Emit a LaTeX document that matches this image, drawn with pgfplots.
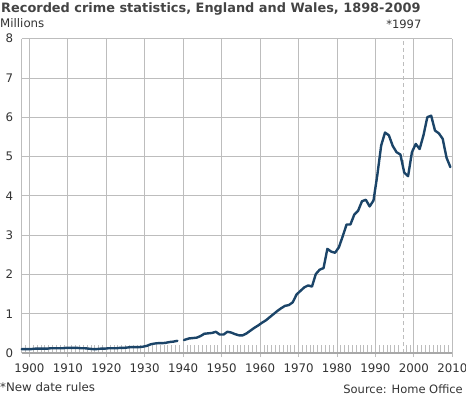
\documentclass[border=0pt]{standalone}
\usepackage{pgfplots}
\pgfplotsset{compat=1.18}
\usepackage{pgfplotstable}
\usepackage{fontspec}
\setmainfont{DejaVu Sans}
\definecolor{crime}{HTML}{1B4468}
\definecolor{gridc}{HTML}{BDBDBD}
\definecolor{axisc}{HTML}{A8A8A8}
\definecolor{txt}{HTML}{333333}
\definecolor{ttl}{HTML}{444444}

\pgfplotstableread{
year val
1898.0 0.10
1898.5 0.10
1899.5 0.10
1900.5 0.10
1901.5 0.11
1902.5 0.11
1903.5 0.11
1904.5 0.11
1905.5 0.12
1906.5 0.12
1907.5 0.12
1908.5 0.12
1909.5 0.13
1910.5 0.13
1911.5 0.13
1912.5 0.13
1913.5 0.12
1914.5 0.12
1915.5 0.11
1916.5 0.10
1917.5 0.10
1918.5 0.11
1919.5 0.11
1920.5 0.12
1921.5 0.12
1922.5 0.12
1923.5 0.13
1924.5 0.13
1925.5 0.14
1926.5 0.15
1927.5 0.15
1928.5 0.15
1929.5 0.16
1930.5 0.18
1931.5 0.22
1932.5 0.24
1933.5 0.25
1934.5 0.25
1935.5 0.26
1936.5 0.28
1937.5 0.29
1938.5 0.31
1939.5 nan
1940.2 0.33
1941.5 0.37
1942.5 0.38
1943.5 0.39
1944.5 0.43
1945.5 0.49
1946.5 0.50
1947.5 0.51
1948.5 0.54
1949.5 0.47
1950.5 0.47
1951.5 0.54
1952.5 0.52
1953.5 0.48
1954.5 0.45
1955.5 0.45
1956.5 0.50
1957.5 0.57
1958.5 0.64
1959.5 0.70
1960.5 0.77
1961.5 0.83
1962.5 0.91
1963.5 0.99
1964.5 1.07
1965.5 1.14
1966.5 1.20
1967.5 1.22
1968.5 1.29
1969.5 1.49
1970.5 1.58
1971.5 1.67
1972.5 1.72
1973.5 1.69
1974.5 2.01
1975.5 2.12
1976.5 2.16
1977.5 2.65
1978.5 2.58
1979.5 2.55
1980.5 2.69
1981.5 2.97
1982.5 3.27
1983.5 3.27
1984.5 3.52
1985.5 3.62
1986.5 3.86
1987.5 3.90
1988.5 3.73
1989.5 3.88
1990.5 4.53
1991.5 5.28
1992.5 5.61
1993.5 5.54
1994.5 5.27
1995.5 5.11
1996.5 5.05
1997.5 4.59
1998.5 4.50
1999.5 5.11
2000.5 5.32
2001.5 5.19
2002.5 5.54
2003.5 6.00
2004.5 6.04
2005.5 5.66
2006.5 5.59
2007.5 5.45
2008.5 4.97
2009.5 4.73
}\crimedata

\begin{document}
\begin{tikzpicture}
\useasboundingbox (0,0) rectangle (466pt,397pt);
\begin{axis}[
  at={(21.7pt,44pt)}, anchor=south west,
  scale only axis, width=430.6pt, height=314.4pt,
  xmin=1898, xmax=2010, ymin=0, ymax=8,
  axis line style={draw=none},
  xtick={1900,1910,...,2010},
  ytick={0,1,...,8},
  xtick pos=bottom, ytick pos=left,
  tick align=outside,
  major tick length=4pt,
  xtick style={color=gridc, line width=0.8pt},
  ytick style={draw=none},
  extra x ticks={1899,1901,1902,1903,1904,1905,1906,1907,1908,1909,1911,1912,1913,1914,1915,1916,1917,1918,1919,1921,1922,1923,1924,1925,1926,1927,1928,1929,1931,1932,1933,1934,1935,1936,1937,1938,1939,1941,1942,1943,1944,1945,1946,1947,1948,1949,1951,1952,1953,1954,1955,1956,1957,1958,1959,1961,1962,1963,1964,1965,1966,1967,1968,1969,1971,1972,1973,1974,1975,1976,1977,1978,1979,1981,1982,1983,1984,1985,1986,1987,1988,1989,1991,1992,1993,1994,1995,1996,1998,1999,2001,2002,2003,2004,2005,2006,2007,2008,2009},
  extra x tick labels={},
  extra x tick style={grid=none, tick align=inside, major tick length=8pt, tick style={color=gridc, line width=0.7pt}},
  grid=major,
  major grid style={color=gridc, line width=0.8pt},
  unbounded coords=jump,
  /pgf/number format/1000 sep={},
  /pgf/number format/assume math mode=true,
  tick label style={font=\fontsize{11.8}{14}\selectfont, text=txt},
  xticklabel style={yshift=-3pt},
  yticklabel style={xshift=-1pt},
  clip=false,
]
\draw[color=gridc, line width=0.8pt] (axis cs:1898,0) -- (axis cs:1898,8);
\draw[color=gridc, line width=0.8pt, dash pattern=on 4pt off 3pt] (axis cs:1997.4,0) -- (axis cs:1997.4,8);
\node[anchor=base, font=\fontsize{11.5}{13}\selectfont, text=txt, yshift=10.6pt] at (axis cs:1997.4,8) {*1997};
\addplot[color=crime, line width=2.4pt, line join=round, line cap=round, no marks] table[x=year, y=val] {\crimedata};
\draw[color=axisc, line width=2.8pt] (axis cs:1898,0) -- (axis cs:2010,0);
\end{axis}
\node[anchor=base west, inner sep=0pt, font=\bfseries\fontsize{12.9}{15}\selectfont, text=ttl] at (1pt,384.3pt) {Recorded crime statistics, England and Wales, 1898-2009};
\node[anchor=base west, inner sep=0pt, font=\fontsize{11.8}{14}\selectfont, text=txt] at (0pt,369.7pt) {Millions};
\node[anchor=base west, inner sep=0pt, font=\fontsize{11.8}{14}\selectfont, text=txt] at (0pt,5.3pt) {*New date rules};
\node[anchor=base east, inner sep=0pt, font=\fontsize{11.5}{14}\selectfont, text=txt] at (463pt,3.7pt) {Source: Home Office};
\end{tikzpicture}
\end{document}
